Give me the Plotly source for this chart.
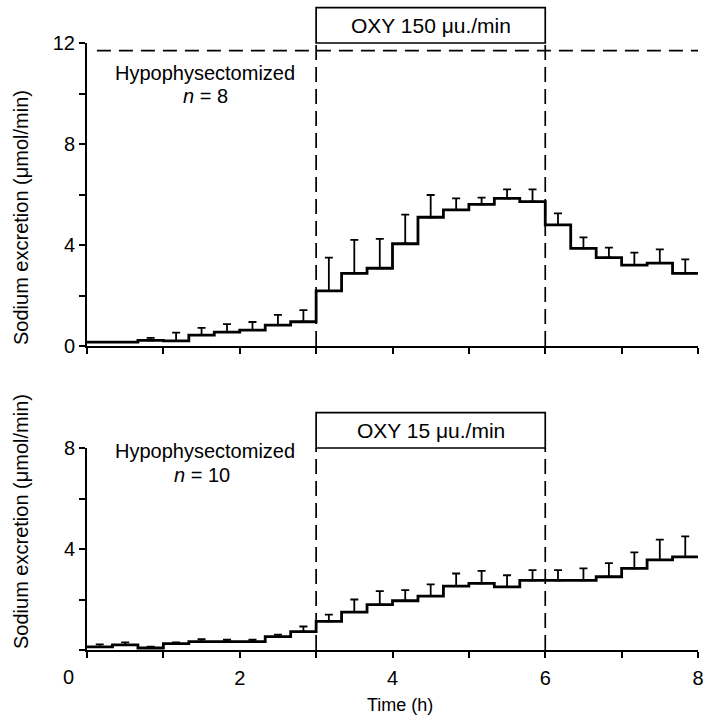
import plotly.graph_objects as go

# 20-min collection periods (start, hours)
period_start_h = [0.0, 0.3333, 0.6667, 1.0, 1.3333, 1.6667, 2.0, 2.3333, 2.6667,
                  3.0, 3.3333, 3.6667, 4.0, 4.3333, 4.6667, 5.0, 5.3333, 5.6667,
                  6.0, 6.3333, 6.6667, 7.0, 7.3333, 7.6667]
period_end_h = 8.0

# Top panel: OXY 150 µu./min, n = 8
top_mean = [0.15, 0.15, 0.22, 0.2, 0.43, 0.55, 0.63, 0.83, 0.96,
            2.18, 2.88, 3.08, 4.05, 5.1, 5.39, 5.61, 5.85, 5.72,
            4.8, 3.87, 3.5, 3.2, 3.28, 2.88]
top_sem = [0.0, 0.0, 0.1, 0.33, 0.29, 0.32, 0.32, 0.4, 0.46,
           1.32, 1.32, 1.16, 1.15, 0.88, 0.46, 0.27, 0.35, 0.48,
           0.45, 0.43, 0.4, 0.5, 0.55, 0.55]

# Bottom panel: OXY 15 µu./min, n = 10
bot_mean = [0.12, 0.2, 0.08, 0.25, 0.33, 0.33, 0.33, 0.53, 0.73,
            1.13, 1.5, 1.8, 1.95, 2.13, 2.53, 2.64, 2.5, 2.76,
            2.76, 2.76, 2.9, 3.23, 3.57, 3.69]
bot_sem = [0.1, 0.1, 0.05, 0.05, 0.1, 0.08, 0.08, 0.08, 0.2,
           0.27, 0.5, 0.53, 0.42, 0.47, 0.5, 0.49, 0.46, 0.4,
           0.4, 0.47, 0.54, 0.64, 0.8, 0.81]

infusion_start_h = 3.0
infusion_end_h = 6.0
top_ymax = 12
bot_ymax = 8
top_ref_line = 11.7

x_tick_vals = [0, 1, 2, 3, 4, 5, 6, 7, 8]
x_tick_text_bottom = ["", "", "2", "", "4", "", "6", "", "8"]
top_y_ticks = [0, 2, 4, 6, 8, 10, 12]
top_y_text = ["0", "", "4", "", "8", "", "12"]
bot_y_ticks = [0, 2, 4, 6, 8]
bot_y_text = ["", "", "4", "", "8"]

FONT = "Liberation Sans, Arial, Helvetica, sans-serif"
W, H = 705, 721
ML, MR, MT, MB = 87, 7, 43, 71
plot_w = W - ML - MR
plot_h = H - MT - MB
top_dom = [(650 - 346) / plot_h, 1.0]
bot_dom = [0.0, (650 - 448) / plot_h]

fig = go.Figure()

def add_panel(mean, sem, xa, ya):
    xs = period_start_h + [period_end_h]
    ys = mean + [mean[-1]]
    mids = [s + 1 / 6 for s in period_start_h]
    fig.add_trace(go.Scatter(
        x=mids, y=mean, mode="markers", marker=dict(size=0.1, color="black", opacity=0),
        error_y=dict(type="data", array=sem, arrayminus=[0] * len(sem), symmetric=False,
                     color="black", thickness=1.8, width=4),
        xaxis=xa, yaxis=ya, showlegend=False, hoverinfo="skip"))
    fig.add_trace(go.Scatter(
        x=xs, y=ys, mode="lines", line=dict(shape="hv", color="black", width=2.8),
        xaxis=xa, yaxis=ya, showlegend=False))

add_panel(top_mean, top_sem, "x", "y")
add_panel(bot_mean, bot_sem, "x2", "y2")

axis_common = dict(showline=True, linecolor="black", linewidth=2, ticks="outside",
                   ticklen=6, tickwidth=1.6, tickcolor="black", showgrid=False,
                   zeroline=False, automargin=False,
                   tickfont=dict(family=FONT, size=20, color="black"))

fig.update_layout(
    width=W, height=H, margin=dict(l=ML, r=MR, t=MT, b=MB, autoexpand=False),
    plot_bgcolor="white", paper_bgcolor="white", showlegend=False,
    xaxis=dict(domain=[0, 1], range=[0, 8], anchor="y", tickvals=x_tick_vals,
               ticktext=[""] * 9, **axis_common),
    yaxis=dict(domain=top_dom, range=[0, top_ymax], anchor="x", tickvals=top_y_ticks,
               ticktext=top_y_text, **axis_common),
    xaxis2=dict(domain=[0, 1], range=[0, 8], anchor="y2", tickvals=x_tick_vals,
                ticktext=x_tick_text_bottom, ticklabelstandoff=3,
                ticklabeloverflow="allow", **axis_common),
    yaxis2=dict(domain=bot_dom, range=[0, bot_ymax], anchor="x2", tickvals=bot_y_ticks,
                ticktext=bot_y_text, **axis_common),
)

def py(v, dom, vmax):
    return dom[0] + v / vmax * (dom[1] - dom[0])

shapes = []
for xv in (infusion_start_h, infusion_end_h):
    shapes.append(dict(type="line", xref="x", yref="y", x0=xv, x1=xv, y0=0, y1=top_ymax,
                       line=dict(color="black", width=1.7, dash="15px,7px")))
    shapes.append(dict(type="line", xref="x2", yref="y2", x0=xv, x1=xv, y0=0, y1=bot_ymax,
                       line=dict(color="black", width=1.7, dash="15px,7px")))
shapes.append(dict(type="line", xref="x", yref="y", x0=0.13, x1=8, y0=top_ref_line, y1=top_ref_line,
                   line=dict(color="black", width=1.7, dash="14px,8px")))
box_h = 1.4
shapes.append(dict(type="rect", xref="paper", yref="paper",
                   x0=infusion_start_h / 8, x1=infusion_end_h / 8,
                   y0=py(top_ymax, top_dom, top_ymax), y1=py(top_ymax + box_h, top_dom, top_ymax),
                   line=dict(color="black", width=1.7)))
shapes.append(dict(type="rect", xref="paper", yref="paper",
                   x0=infusion_start_h / 8, x1=infusion_end_h / 8,
                   y0=py(bot_ymax, bot_dom, bot_ymax), y1=py(bot_ymax + box_h, bot_dom, bot_ymax),
                   line=dict(color="black", width=1.7)))
fig.update_layout(shapes=shapes)

f20 = dict(family=FONT, size=20, color="black")
f21 = dict(family=FONT, size=21, color="black")
f18 = dict(family=FONT, size=18, color="black")
ann = []
ann.append(dict(xref="paper", yref="paper", x=(infusion_start_h + infusion_end_h) / 16,
                y=py(top_ymax + box_h / 2, top_dom, top_ymax), text="OXY 150 μu./min",
                showarrow=False, font=f21, xanchor="center", yanchor="middle"))
ann.append(dict(xref="paper", yref="paper", x=(infusion_start_h + infusion_end_h) / 16,
                y=py(bot_ymax + box_h / 2, bot_dom, bot_ymax), text="OXY 15 μu./min",
                showarrow=False, font=f21, xanchor="center", yanchor="middle"))
ann.append(dict(xref="x", yref="y", x=1.545, y=10.8, text="Hypophysectomized",
                showarrow=False, font=f20, xanchor="center", yanchor="middle"))
ann.append(dict(xref="x", yref="y", x=1.545, y=9.9, text="<i>n</i> = 8",
                showarrow=False, font=f20, xanchor="center", yanchor="middle"))
ann.append(dict(xref="x2", yref="y2", x=1.545, y=7.9, text="Hypophysectomized",
                showarrow=False, font=f20, xanchor="center", yanchor="middle"))
ann.append(dict(xref="x2", yref="y2", x=1.5, y=6.95, text="<i>n</i> = 10",
                showarrow=False, font=f20, xanchor="center", yanchor="middle"))
ann.append(dict(xref="paper", yref="paper", x=(68 - ML) / plot_w, y=(650 - 677) / plot_h,
                text="0", showarrow=False, font=f20, xanchor="center", yanchor="middle"))
ann.append(dict(xref="paper", yref="paper", x=(400 - ML) / plot_w, y=(650 - 705) / plot_h,
                text="Time (h)", showarrow=False, font=f18, xanchor="center", yanchor="middle"))
ann.append(dict(xref="paper", xanchor="center", x=(21 - ML) / plot_w, yref="paper",
                y=(650 - 218) / plot_h, text="Sodium excretion (μmol/min)", textangle=-90,
                showarrow=False, font=f20, yanchor="middle"))
ann.append(dict(xref="paper", xanchor="center", x=(21 - ML) / plot_w, yref="paper",
                y=(650 - 522) / plot_h, text="Sodium excretion (μmol/min)", textangle=-90,
                showarrow=False, font=f20, yanchor="middle"))
fig.update_layout(annotations=ann)

fig.write_html("out.html", config={"displayModeBar": False},
               post_script="document.body.style.margin='0';document.body.style.overflow='hidden';")
